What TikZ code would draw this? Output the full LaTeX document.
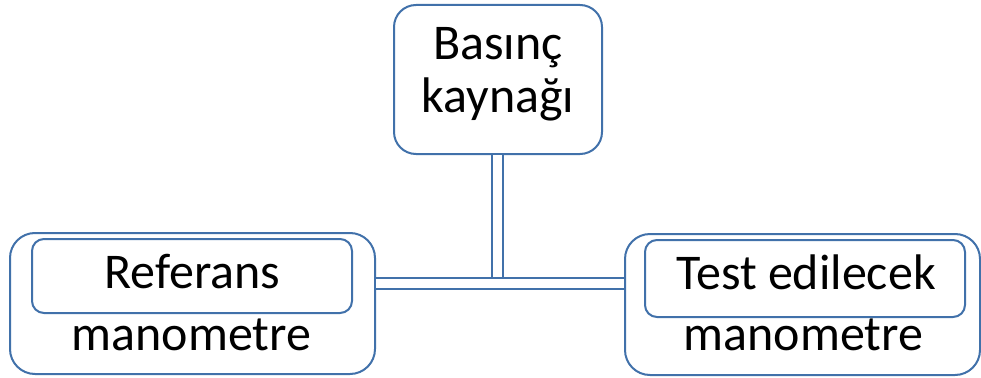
\documentclass[tikz,border=0pt]{standalone}
\usepackage{fontspec}
\setmainfont{Carlito}
\definecolor{boxblue}{RGB}{65,113,170}
\begin{document}
\begin{tikzpicture}[x=1pt,y=-1pt,
  box/.style={draw=boxblue,line width=2pt,fill=white,rectangle,inner sep=0pt},
  txt/.style={anchor=base,inner sep=0pt,font=\fontsize{50}{60}\selectfont},
  pipe/.style={draw=boxblue,line width=2pt,double=white,double distance=9pt}]
\useasboundingbox (0,0) rectangle (981,377);
% boxes
\node[box,minimum width=208pt,minimum height=149pt,rounded corners=22pt] (src) at (498,79.5) {};
\node[box,minimum width=365pt,minimum height=141pt,rounded corners=25pt] (refout) at (192.5,303.5) {};
\node[box,minimum width=320pt,minimum height=74pt,rounded corners=12pt] (refin) at (192,276) {};
\node[box,minimum width=355pt,minimum height=141pt,rounded corners=25pt] (testout) at (802.5,304.5) {};
\node[box,minimum width=320pt,minimum height=77pt,rounded corners=12pt] (testin) at (805,278.5) {};
% texts
\node[txt] (t1) at (498,60) {Basınç};
\node[txt] (t2) at (498,112) {kaynağı};
\node[txt] (t3) at (192.5,288) {Referans};
\node[txt] (t4) at (191.5,350) {manometre};
\node[txt] (t5) at (806,289) {Test edilecek};
\node[txt] (t6) at (803.5,350) {manometre};
% connectors
\coordinate (j) at (497.5,283.5);
\draw[pipe] (src.south -| j) -- (j);
\draw[pipe] (refout.east |- j) -- (testout.west |- j);
\end{tikzpicture}
\end{document}
